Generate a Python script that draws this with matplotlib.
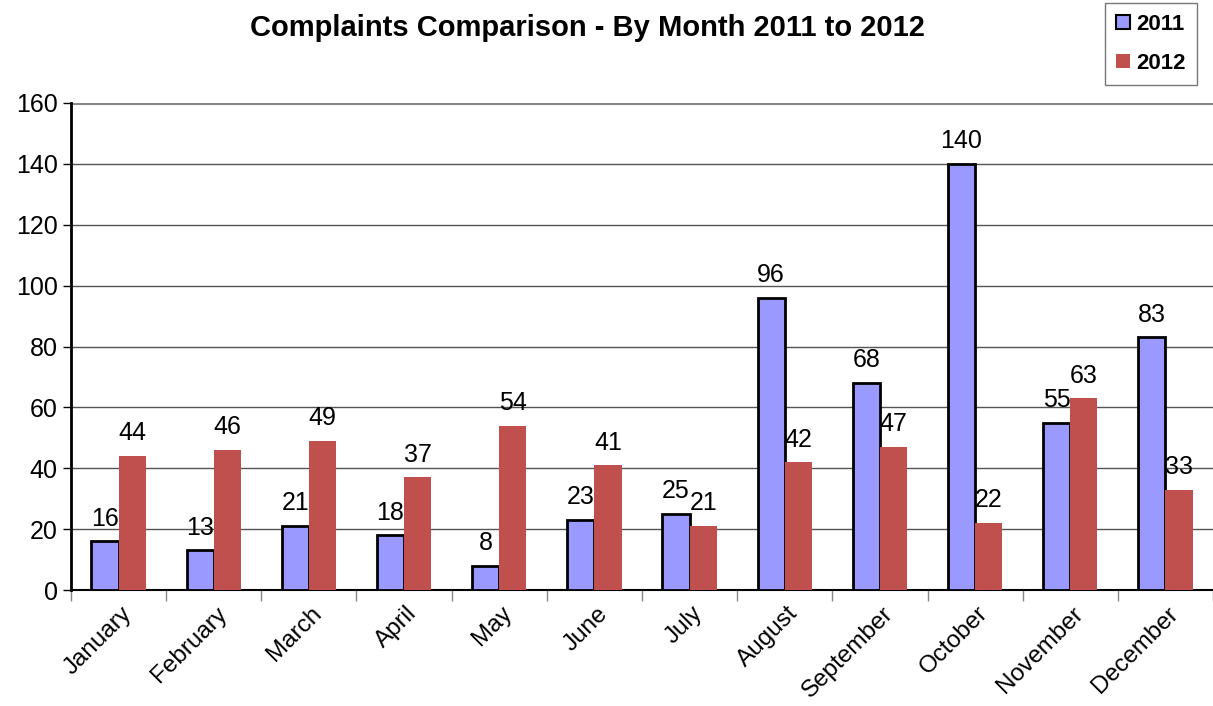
import numpy as np
import matplotlib
matplotlib.use("Agg")
import matplotlib.pyplot as plt
from matplotlib.patches import Patch

months = ["January", "February", "March", "April", "May", "June", "July",
          "August", "September", "October", "November", "December"]
vals_2011 = [16, 13, 21, 18, 8, 23, 25, 96, 68, 140, 55, 83]
vals_2012 = [44, 46, 49, 37, 54, 41, 21, 42, 47, 22, 63, 33]

plt.rcParams['font.family'] = ['Liberation Sans', 'DejaVu Sans']

fig = plt.figure(figsize=(12.13, 7.06), dpi=100)
ax = fig.add_axes([71 / 1213, 1 - 590 / 706, 1 - 71 / 1213, (590 - 103) / 706])

x = np.arange(len(months))
w = 0.285
b1 = ax.bar(x - w / 2, vals_2011, w, color="#9999FF", edgecolor="black", linewidth=2, zorder=3)
b2 = ax.bar(x + w / 2, vals_2012, w, color="#C0504D", edgecolor="none", zorder=3)

for rect, v in zip(b1, vals_2011):
    ax.text(rect.get_x() + rect.get_width() / 2, v + 3.5, str(v), ha="center", va="bottom", fontsize=18)
for rect, v in zip(b2, vals_2012):
    ax.text(rect.get_x() + rect.get_width() / 2, v + 3.5, str(v), ha="center", va="bottom", fontsize=18)

ax.set_xlim(-0.5, len(months) - 0.5)
ax.set_ylim(0, 160)
ax.set_yticks(range(0, 161, 20))
ax.tick_params(axis="y", labelsize=18, length=6, width=1, direction="out")
ax.yaxis.grid(True, color="#555555", linewidth=1, zorder=0)
ax.set_axisbelow(True)

ax.set_xticks(x + 0.02)
ax.set_xticklabels(months, rotation=45, ha="right", rotation_mode="anchor", fontsize=17.5)
ax.tick_params(axis="x", length=0, pad=9)
ax.set_xticks(np.arange(-0.5, len(months), 1), minor=True)
ax.tick_params(axis="x", which="minor", length=8, width=1, color="#888888")

for s in ["top", "right"]:
    ax.spines[s].set_visible(False)
ax.spines["left"].set_linewidth(2)
ax.spines["bottom"].set_linewidth(1.5)
ax.axhline(160, color="#888888", linewidth=3, zorder=1)

fig.text(587 / 1213, 1 - 28 / 706, "Complaints Comparison - By Month 2011 to 2012",
         ha="center", va="center", fontsize=21, fontweight="bold")

handles = [Patch(facecolor="#9999FF", edgecolor="black", linewidth=1.5, label="2011"),
           Patch(facecolor="#C0504D", edgecolor="none", label="2012")]
leg = fig.legend(handles=handles, loc="upper right", bbox_to_anchor=(1197 / 1213, 1 - 3 / 706),
                 borderaxespad=0,
                 prop={"weight": "bold", "size": 16}, frameon=True, fancybox=False,
                 handlelength=0.6, handleheight=0.6, handletextpad=0.3, labelspacing=0.8,
                 borderpad=0.5)
leg.get_frame().set_edgecolor("#555555")
leg.get_frame().set_linewidth(1)

fig.savefig("out.png", dpi=100)
